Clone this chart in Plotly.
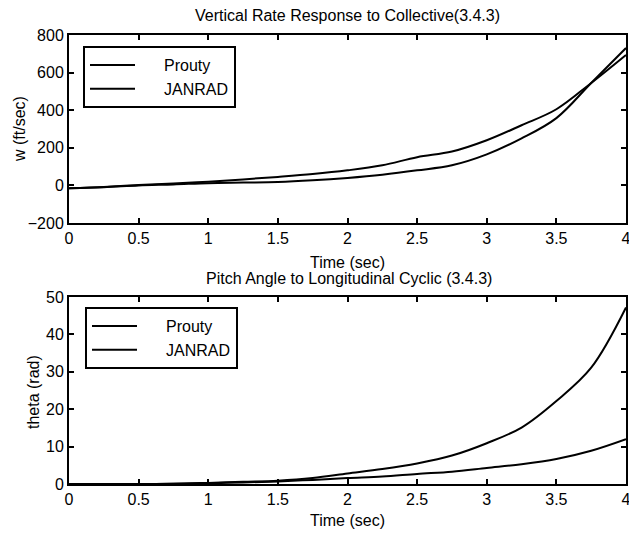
import plotly.graph_objects as go

# ---- data ----
t_top = [0, 0.25, 0.5, 0.75, 1.0, 1.25, 1.5, 1.75, 2.0, 2.25, 2.5, 2.75, 3.0, 3.25, 3.5, 3.75, 4.0]
w_prouty = [-15, -8, 2, 10, 20, 32, 45, 60, 80, 107, 150, 180, 240, 320, 405, 545, 694]
w_janrad = [-15, -10, 0, 5, 12, 15, 18, 27, 40, 57, 80, 107, 165, 250, 358, 545, 731]

t_bot = [0, 0.25, 0.5, 0.75, 1.0, 1.25, 1.5, 1.75, 2.0, 2.25, 2.5, 2.75, 3.0, 3.25, 3.5, 3.75, 4.0]
theta_prouty = [0, 0, 0, 0.05, 0.3, 0.6, 0.9, 1.6, 2.8, 4.0, 5.5, 7.6, 10.9, 15.1, 22.2, 31.1, 47.2]
theta_janrad = [0, 0, 0, 0.05, 0.2, 0.4, 0.7, 1.1, 1.6, 2.0, 2.7, 3.3, 4.3, 5.3, 6.7, 8.9, 12.0]

series_names = ["Prouty", "JANRAD"]
top_title = "Vertical Rate Response to Collective(3.4.3)"
bot_title = "Pitch Angle to Longitudinal Cyclic (3.4.3)"
x_label = "Time (sec)"
y_top_label = "w (ft/sec)"
y_bot_label = "theta (rad)"
x_ticks = [0, 0.5, 1, 1.5, 2, 2.5, 3, 3.5, 4]
x_ticktext = ["0", "0.5", "1", "1.5", "2", "2.5", "3", "3.5", "4"]
y_top_ticks = [-200, 0, 200, 400, 600, 800]
y_bot_ticks = [0, 10, 20, 30, 40, 50]

W, H = 629, 533
FONT = "Liberation Sans, Arial, Helvetica, sans-serif"
FS = 16

def px_x(p):
    return p / W

def px_y(p):
    return 1 - p / H

fig = go.Figure()
line = dict(color="black", width=2)
pad = "\u2003\u2002"
fig.add_trace(go.Scatter(x=t_top, y=w_prouty, mode="lines", name=pad + series_names[0], line=line,
                         line_shape="spline", xaxis="x", yaxis="y", legend="legend"))
fig.add_trace(go.Scatter(x=t_top, y=w_janrad, mode="lines", name=pad + series_names[1], line=line,
                         line_shape="spline", xaxis="x", yaxis="y", legend="legend"))
fig.add_trace(go.Scatter(x=t_bot, y=theta_prouty, mode="lines", name=pad + series_names[0], line=line,
                         line_shape="spline", xaxis="x2", yaxis="y2", legend="legend2"))
fig.add_trace(go.Scatter(x=t_bot, y=theta_janrad, mode="lines", name=pad + series_names[1], line=line,
                         line_shape="spline", xaxis="x2", yaxis="y2", legend="legend2"))

axis_common = dict(showline=True, linecolor="black", linewidth=2, mirror="ticks",
                   ticks="inside", ticklen=5, tickcolor="black", tickwidth=1.5,
                   showgrid=False, zeroline=False, automargin=False,
                   ticklabeloverflow="allow",
                   tickfont=dict(family=FONT, size=FS, color="black"))

xdom = [px_x(69), px_x(626)]
leg_common = dict(xanchor="left", yanchor="top", bordercolor="black", borderwidth=2,
                  bgcolor="white", font=dict(family=FONT, size=FS, color="black"),
                  itemwidth=45, tracegroupgap=0)
fig.update_layout(
    width=W, height=H,
    margin=dict(l=0, r=0, t=0, b=0),
    paper_bgcolor="white", plot_bgcolor="white",
    font=dict(family=FONT, size=FS, color="black"),
    xaxis=dict(domain=xdom, range=[0, 4], tickvals=x_ticks, ticktext=x_ticktext,
               anchor="y", **axis_common),
    yaxis=dict(domain=[px_y(223), px_y(35)], range=[-200, 800], tickvals=y_top_ticks,
               anchor="x", **axis_common),
    xaxis2=dict(domain=xdom, range=[0, 4], tickvals=x_ticks, ticktext=x_ticktext,
                anchor="y2", **axis_common),
    yaxis2=dict(domain=[px_y(484), px_y(297)], range=[0, 50], tickvals=y_bot_ticks,
                anchor="x2", **axis_common),
    legend=dict(x=px_x(83), y=px_y(46), **leg_common),
    legend2=dict(x=px_x(85), y=px_y(307), **leg_common),
    showlegend=True,
)

annots = [
    dict(text=top_title, x=px_x(347), y=px_y(15)),
    dict(text=bot_title, x=px_x(349), y=px_y(278)),
    dict(text=x_label, x=px_x(348), y=px_y(262)),
    dict(text=x_label, x=px_x(348), y=px_y(520)),
    dict(text=y_top_label, x=px_x(20), y=px_y(129), textangle=-90),
    dict(text=y_bot_label, x=px_x(33), y=px_y(392), textangle=-90),
]
for a in annots:
    fig.add_annotation(xref="paper", yref="paper", showarrow=False,
                       xanchor="center", yanchor="middle",
                       font=dict(family=FONT, size=FS, color="black"), **a)

fig.write_html("out.html",
               config={"displayModeBar": False},
               post_script="document.body.style.margin='0';document.body.style.overflow='hidden';")
